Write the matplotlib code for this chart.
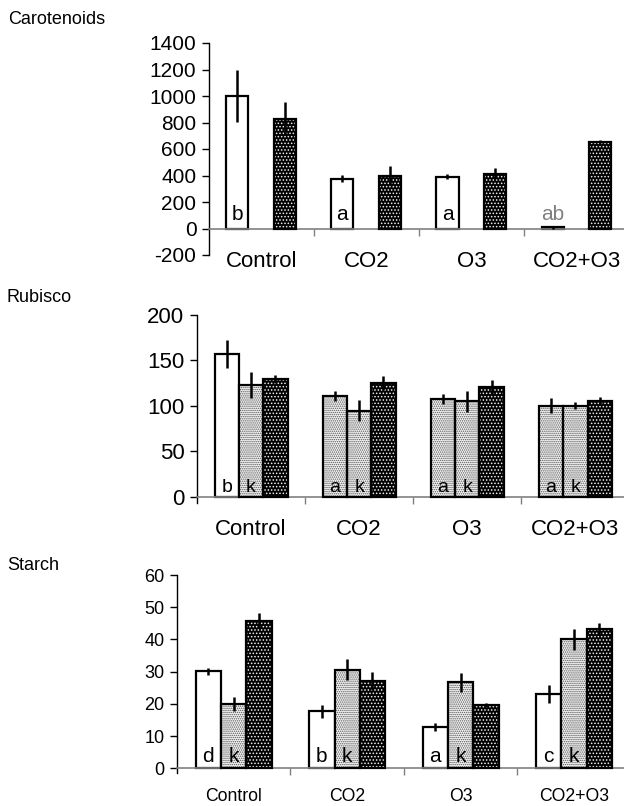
import numpy as np
import matplotlib
matplotlib.use("Agg")
import matplotlib.pyplot as plt

plt.rcParams['font.family'] = ['Liberation Sans', 'DejaVu Sans']
plt.rcParams['hatch.linewidth'] = 0.7

groups = ['Control', 'CO2', 'O3', 'CO2+O3']

# Carotenoids: two series (outer slots of a 3-slot group)
car_white = [1000, 377, 390, 8]
car_white_err = [195, 27, 20, 11]
car_dark = [830, 400, 415, 655]
car_dark_err = [127, 72, 45, 12]
car_letters = ['b', 'a', 'a', 'ab']

# Rubisco: three series
rub_first = [157.5, 110.6, 107.7, 100.3]
rub_first_err = [15.5, 5.5, 6, 8.5]
rub_first_style = ['white', 'light', 'light', 'light']
rub_mid = [123, 95, 105, 100.5]
rub_mid_err = [14, 12, 12, 4]
rub_dark = [130, 125.3, 121, 106]
rub_dark_err = [4.5, 8, 8, 3.5]
rub_letters = ['b', 'a', 'a', 'a']

# Starch: three series
sta_white = [30.2, 17.7, 12.8, 23.1]
sta_white_err = [1.1, 2.0, 1.3, 2.7]
sta_mid = [20.0, 30.6, 26.7, 40.1]
sta_mid_err = [2.2, 3.2, 3.0, 3.3]
sta_dark = [45.8, 27.2, 19.7, 43.3]
sta_dark_err = [2.3, 2.8, 0.6, 1.9]
sta_letters = ['d', 'b', 'a', 'c']

mid_letter = 'k'

W, H = 624, 806
fig = plt.figure(figsize=(W / 100, H / 100), dpi=100)


def px_axes(left, top, bottom):
    return fig.add_axes([left / W, 1 - bottom / H, 1 - left / W, (bottom - top) / H])


def draw_bars(ax, xs, vals, errs, style, width):
    x = np.arange(len(vals)) + xs
    styles = style if isinstance(style, list) else [style] * len(vals)
    for xi, v, s in zip(x, vals, styles):
        if s == 'white':
            ax.bar(xi, v, width, color='white', edgecolor='black', linewidth=1.6, zorder=2)
        elif s == 'light':
            ax.bar(xi, v, width, color='#f4f4f4', edgecolor='#555555', hatch='........',
                   linewidth=0, zorder=2)
            ax.bar(xi, v, width, fill=False, edgecolor='black', linewidth=1.6, zorder=3)
        else:
            ax.bar(xi, v, width, color='black', edgecolor='#f0f0f0', hatch='.....',
                   linewidth=0, zorder=2)
            ax.bar(xi, v, width, fill=False, edgecolor='black', linewidth=1.6, zorder=3)
    ax.errorbar(x, vals, yerr=errs, fmt='none', ecolor='black', elinewidth=1.8,
                capsize=0, zorder=4)
    return x


def style_axes(ax, xlim, ylim, yticks, tick_fs):
    ax.set_xlim(*xlim)
    ax.set_ylim(*ylim)
    ax.set_yticks(yticks)
    ax.set_yticklabels([str(t) for t in yticks], fontsize=tick_fs)
    ax.set_xticks([0.5, 1.5, 2.5])
    ax.set_xticklabels([])
    for s in ['top', 'right']:
        ax.spines[s].set_visible(False)
    ax.spines['bottom'].set_position(('data', 0))
    ax.spines['bottom'].set_color('#808080')
    ax.spines['bottom'].set_linewidth(1.2)
    ax.spines['left'].set_linewidth(1.0)
    ax.tick_params(axis='y', direction='out', length=5, width=1, pad=4)
    ax.tick_params(axis='x', direction='out', length=5, width=1, color='#808080')


def cat_labels(ax, baseline_px, ax_top, ax_bottom, fs):
    y = (ax_bottom - baseline_px) / (ax_bottom - ax_top)
    for i, g in enumerate(groups):
        ax.text(i, y, g, transform=ax.get_xaxis_transform(), ha='center',
                va='baseline', fontsize=fs)


def bar_letters(ax, x, letters, y_px_above, ylim, ax_h, fs, colors=None):
    dy = y_px_above * (ylim[1] - ylim[0]) / ax_h
    for i, (xi, t) in enumerate(zip(x, letters)):
        c = colors[i] if colors else 'black'
        ax.text(xi, dy, t, ha='center', va='baseline', fontsize=fs, color=c, zorder=5)


# ---- Carotenoids
top1, bot1 = 43, 255
ax1 = px_axes(209, top1, bot1)
lim1 = (-200, 1400)
style_axes(ax1, (-0.5, 3.45), lim1, list(range(-200, 1401, 200)), 15)
xw = draw_bars(ax1, -0.23, car_white, car_white_err, 'white', 0.21)
draw_bars(ax1, 0.22, car_dark, car_dark_err, 'dark', 0.21)
bar_letters(ax1, xw, car_letters, 9, lim1, bot1 - top1, 15,
            colors=['black', 'black', 'black', '#808080'])
cat_labels(ax1, 267, top1, bot1, 16)
fig.text(8 / W, 1 - 23.5 / H, 'Carotenoids', fontsize=13, va='baseline')

# ---- Rubisco
top2, bot2 = 315, 503
ax2 = px_axes(197, top2, bot2)
lim2 = (-6.6, 200)
style_axes(ax2, (-0.5, 3.45), lim2, [0, 50, 100, 150, 200], 16)
w2 = 0.225
x1 = draw_bars(ax2, -w2, rub_first, rub_first_err, rub_first_style, w2)
x2 = draw_bars(ax2, 0, rub_mid, rub_mid_err, 'light', w2)
draw_bars(ax2, w2, rub_dark, rub_dark_err, 'dark', w2)
bar_letters(ax2, x1, rub_letters, 4.5, lim2, bot2 - top2, 14)
bar_letters(ax2, x2, [mid_letter] * 4, 4.5, lim2, bot2 - top2, 14)
cat_labels(ax2, 535, top2, bot2, 16)
fig.text(7 / W, 1 - 301.5 / H, 'Rubisco', fontsize=13, va='baseline')

# ---- Starch
top3, bot3 = 575, 773
ax3 = px_axes(177, top3, bot3)
lim3 = (-1.4, 60)
style_axes(ax3, (-0.5, 3.44), lim3, [0, 10, 20, 30, 40, 50, 60], 13)
w3 = 0.223
x1 = draw_bars(ax3, -w3, sta_white, sta_white_err, 'white', w3)
x2 = draw_bars(ax3, 0, sta_mid, sta_mid_err, 'light', w3)
draw_bars(ax3, w3, sta_dark, sta_dark_err, 'dark', w3)
bar_letters(ax3, x1, sta_letters, 6.5, lim3, bot3 - top3, 15)
bar_letters(ax3, x2, [mid_letter] * 4, 6.5, lim3, bot3 - top3, 15)
cat_labels(ax3, 801, top3, bot3, 12.7)
fig.text(7 / W, 1 - 570 / H, 'Starch', fontsize=13, va='baseline')

fig.savefig('out.png', dpi=100)
